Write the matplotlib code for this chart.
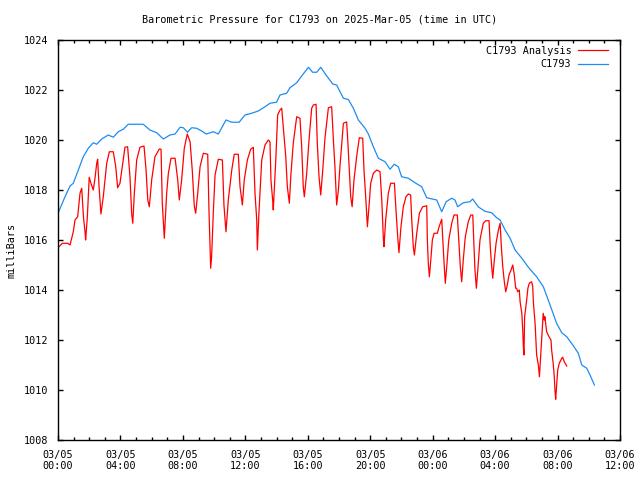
import matplotlib
matplotlib.use("Agg")
import matplotlib.pyplot as plt
import matplotlib.dates as mdates
import pandas as pd

# hours after 2025-03-05 00:00 UTC, pressure in mb
obs_hours = [0.00, 0.45, 0.77, 0.98, 1.30, 1.62, 1.94, 2.26, 2.48, 2.80, 3.22, 3.54, 3.86,
             4.18, 4.50, 5.46, 5.89, 6.32, 6.75, 7.17, 7.50, 7.82, 8.03, 8.30, 8.56, 8.88,
             9.20, 9.50, 9.95, 10.27, 10.76, 11.13, 11.60, 11.98, 12.40, 12.83, 13.26, 13.58,
             14.00, 14.22, 14.65, 14.86, 15.29, 15.61, 16.04, 16.31, 16.57, 16.83, 17.17,
             17.60, 17.85, 18.28, 18.60, 18.92, 19.24, 19.67, 19.88, 20.20, 20.52, 20.95,
             21.27, 21.54, 21.80, 22.01, 22.44, 22.87, 23.30, 23.62, 24.26, 24.58, 24.86,
             25.22, 25.43, 25.60, 25.96, 26.39, 26.56, 26.93, 27.35, 27.78, 28.10, 28.32,
             28.64, 28.96, 29.28, 29.71, 30.13, 30.66, 31.09, 31.52, 31.94, 32.27, 32.59,
             33.01, 33.33, 33.55, 33.87, 34.08, 34.36]
obs_mb = [1017.07, 1017.73, 1018.16, 1018.27, 1018.80, 1019.33, 1019.67, 1019.89, 1019.83,
          1020.04, 1020.20, 1020.11, 1020.33, 1020.43, 1020.63, 1020.63, 1020.40, 1020.29,
          1020.04, 1020.20, 1020.24, 1020.51, 1020.49, 1020.31, 1020.49, 1020.47, 1020.36,
          1020.24, 1020.33, 1020.24, 1020.80, 1020.71, 1020.71, 1021.00, 1021.07, 1021.16,
          1021.33, 1021.47, 1021.51, 1021.80, 1021.87, 1022.09, 1022.29, 1022.56, 1022.91,
          1022.71, 1022.71, 1022.91, 1022.60, 1022.24, 1022.20, 1021.67, 1021.62, 1021.27,
          1020.80, 1020.47, 1020.24, 1019.73, 1019.27, 1019.13, 1018.83, 1019.03, 1018.93,
          1018.53, 1018.47, 1018.29, 1018.13, 1017.69, 1017.60, 1017.13, 1017.53, 1017.67,
          1017.60, 1017.33, 1017.49, 1017.53, 1017.64, 1017.32, 1017.15, 1017.09, 1016.89,
          1016.80, 1016.40, 1016.07, 1015.60, 1015.27, 1014.91, 1014.53, 1014.13, 1013.40,
          1012.67, 1012.29, 1012.13, 1011.77, 1011.47, 1011.00, 1010.87, 1010.60, 1010.20]

ana_hours = [0.00, 0.28, 0.62, 0.77, 0.98, 1.09, 1.26, 1.41, 1.52, 1.63, 1.73, 1.77, 1.88,
             2.00, 2.11, 2.26, 2.37, 2.48, 2.54, 2.63, 2.75, 2.90, 3.12, 3.29, 3.54, 3.70,
             3.82, 3.97, 4.18, 4.29, 4.46, 4.61, 4.72, 4.79, 4.89, 5.04, 5.25, 5.51, 5.64,
             5.75, 5.85, 6.00, 6.21, 6.49, 6.60, 6.68, 6.81, 6.96, 7.07, 7.24, 7.50, 7.67,
             7.77, 7.92, 8.09, 8.28, 8.46, 8.60, 8.73, 8.82, 8.95, 9.10, 9.31, 9.59, 9.67,
             9.74, 9.78, 9.84, 9.95, 10.06, 10.27, 10.53, 10.63, 10.76, 10.91, 11.13, 11.29,
             11.55, 11.66, 11.81, 11.93, 12.13, 12.34, 12.51, 12.62, 12.73, 12.77, 12.87,
             13.05, 13.26, 13.47, 13.58, 13.64, 13.75, 13.79, 13.95, 14.07, 14.22, 14.33,
             14.43, 14.59, 14.69, 14.82, 14.91, 15.07, 15.29, 15.50, 15.61, 15.71, 15.78,
             15.93, 16.08, 16.25, 16.36, 16.53, 16.61, 16.72, 16.83, 16.96, 17.10, 17.32,
             17.53, 17.64, 17.74, 17.85, 17.96, 18.06, 18.28, 18.49, 18.56, 18.66, 18.75,
             18.84, 18.96, 19.13, 19.30, 19.52, 19.60, 19.71, 19.82, 19.92, 20.03, 20.20,
             20.42, 20.63, 20.74, 20.84, 20.88, 20.99, 21.16, 21.31, 21.55, 21.65, 21.76,
             21.84, 21.97, 22.12, 22.29, 22.44, 22.59, 22.66, 22.76, 22.83, 22.98, 23.15,
             23.36, 23.62, 23.66, 23.72, 23.79, 23.88, 23.98, 24.09, 24.30, 24.41, 24.52,
             24.58, 24.65, 24.73, 24.81, 24.90, 25.03, 25.22, 25.37, 25.58, 25.67, 25.77,
             25.86, 25.96, 26.09, 26.28, 26.44, 26.57, 26.63, 26.71, 26.80, 26.89, 27.03,
             27.24, 27.40, 27.61, 27.69, 27.78, 27.85, 27.93, 28.06, 28.21, 28.32, 28.40,
             28.49, 28.59, 28.68, 28.78, 28.89, 29.02, 29.13, 29.23, 29.32, 29.38, 29.45,
             29.55, 29.60, 29.71, 29.77, 29.81, 29.85, 29.89, 30.01, 30.10, 30.19, 30.34,
             30.41, 30.45, 30.56, 30.66, 30.77, 30.84, 30.93, 30.99, 31.05, 31.08, 31.15,
             31.19, 31.30, 31.47, 31.58, 31.62, 31.72, 31.79, 31.84, 31.88, 31.95, 32.01,
             32.11, 32.27, 32.33, 32.43, 32.59]
ana_mb = [1015.69, 1015.87, 1015.87, 1015.80, 1016.33, 1016.80, 1016.93, 1017.87, 1018.07,
          1016.93, 1016.33, 1016.00, 1016.93, 1018.51, 1018.27, 1018.00, 1018.47, 1019.07,
          1019.23, 1018.13, 1017.04, 1017.73, 1019.07, 1019.53, 1019.53, 1018.93, 1018.09,
          1018.27, 1019.20, 1019.71, 1019.73, 1018.53, 1017.04, 1016.67, 1017.87, 1019.20,
          1019.71, 1019.76, 1018.80, 1017.60, 1017.33, 1018.40, 1019.33, 1019.64, 1019.63,
          1017.47, 1016.07, 1017.87, 1018.67, 1019.27, 1019.27, 1018.40, 1017.60, 1018.40,
          1019.67, 1020.24, 1019.93, 1018.80, 1017.36, 1017.07, 1017.87, 1018.93, 1019.47,
          1019.43, 1017.20, 1015.67, 1014.87, 1015.33, 1017.13, 1018.60, 1019.23, 1019.20,
          1017.40, 1016.33, 1017.60, 1018.80, 1019.43, 1019.43, 1018.13, 1017.40, 1018.40,
          1019.20, 1019.63, 1019.71, 1017.87, 1016.80, 1015.60, 1017.07, 1019.20, 1019.80,
          1020.00, 1019.93, 1018.40, 1017.60, 1017.20, 1019.20, 1021.00, 1021.20, 1021.27,
          1020.53, 1019.33, 1018.13, 1017.47, 1018.53, 1019.87, 1020.93, 1020.87, 1019.73,
          1018.13, 1017.73, 1018.67, 1020.00, 1021.27, 1021.40, 1021.43, 1019.87, 1018.53,
          1017.80, 1018.80, 1020.07, 1021.29, 1021.33, 1020.00, 1018.93, 1017.40, 1018.00,
          1018.93, 1020.67, 1020.72, 1020.00, 1018.80, 1017.73, 1017.33, 1018.40, 1019.33,
          1020.09, 1020.07, 1018.80, 1017.73, 1016.53, 1017.33, 1018.27, 1018.67, 1018.80,
          1018.73, 1017.60, 1016.07, 1015.73, 1016.80, 1017.87, 1018.27, 1018.27, 1017.20,
          1016.13, 1015.49, 1016.53, 1017.33, 1017.73, 1017.84, 1017.80, 1016.80, 1015.73,
          1015.40, 1016.27, 1017.07, 1017.33, 1017.37, 1016.00, 1015.07, 1014.53, 1015.20,
          1016.00, 1016.27, 1016.27, 1016.53, 1016.73, 1016.83, 1016.00, 1015.07, 1014.27,
          1014.93, 1016.00, 1016.67, 1017.00, 1017.00, 1016.00, 1014.93, 1014.33, 1015.20,
          1016.13, 1016.73, 1017.00, 1017.00, 1016.00, 1014.80, 1014.07, 1014.80, 1016.00,
          1016.67, 1016.77, 1016.77, 1015.73, 1014.93, 1014.47, 1015.07, 1015.87, 1016.40,
          1016.67, 1015.73, 1014.93, 1014.33, 1013.93, 1014.20, 1014.60, 1014.80, 1015.00,
          1014.60, 1014.07, 1014.07, 1013.93, 1014.00, 1013.53, 1013.07, 1012.40, 1011.73,
          1011.40, 1012.93, 1013.53, 1014.07, 1014.27, 1014.33, 1014.13, 1013.53, 1012.67,
          1011.40, 1011.00, 1010.53, 1011.47, 1012.13, 1012.73, 1013.07, 1012.80, 1012.93,
          1012.33, 1012.11, 1012.00, 1011.60, 1011.07, 1010.53, 1009.93, 1009.63, 1010.27,
          1010.80, 1011.07, 1011.27, 1011.31, 1011.13, 1010.96]

start = pd.Timestamp("2025-03-05 00:00")
obs_t = start + pd.to_timedelta(obs_hours, unit="h")
ana_t = start + pd.to_timedelta(ana_hours, unit="h")

plt.rcParams["font.family"] = ["DejaVu Sans Mono"]
plt.rcParams["font.size"] = 7.3

fig = plt.figure(figsize=(6.4, 4.8), dpi=100)
ax = fig.add_axes([58 / 640, 40 / 480, 562 / 640, 400 / 480])

ax.plot(ana_t, ana_mb, color="#ff0000", lw=0.9, label="C1793 Analysis")
ax.plot(obs_t, obs_mb, color="#1e8cf0", lw=0.9, label="C1793")

ax.set_xlim(start, start + pd.Timedelta(hours=36))
ax.set_ylim(1008, 1024)
ax.set_yticks(range(1008, 1025, 2))

ax.xaxis.set_major_locator(mdates.HourLocator(byhour=range(0, 24, 4)))
ax.xaxis.set_minor_locator(mdates.HourLocator())
ax.xaxis.set_major_formatter(mdates.DateFormatter("%m/%d\n%H:%M"))

ax.tick_params(which="both", direction="in", top=True, right=True, width=1, color="black")
ax.tick_params(which="major", length=3.8, pad=7)
ax.tick_params(which="minor", length=2.3)
for s in ax.spines.values():
    s.set_linewidth(1.0)

fig.text(0.5, 1 - 20 / 480, "Barometric Pressure for C1793 on 2025-Mar-05 (time in UTC)",
         ha="center", va="center")
fig.text(12 / 640, 1 - 250 / 480, "milliBars", rotation=90, ha="center", va="center")

ax.legend(loc="upper right", bbox_to_anchor=(1 - 8 / 562, 1 - 1.5 / 400),
          frameon=False, markerfirst=False, handlelength=3.0,
          handletextpad=0.6, labelspacing=0.35, borderaxespad=0.0)

fig.savefig("out.png", dpi=100)
